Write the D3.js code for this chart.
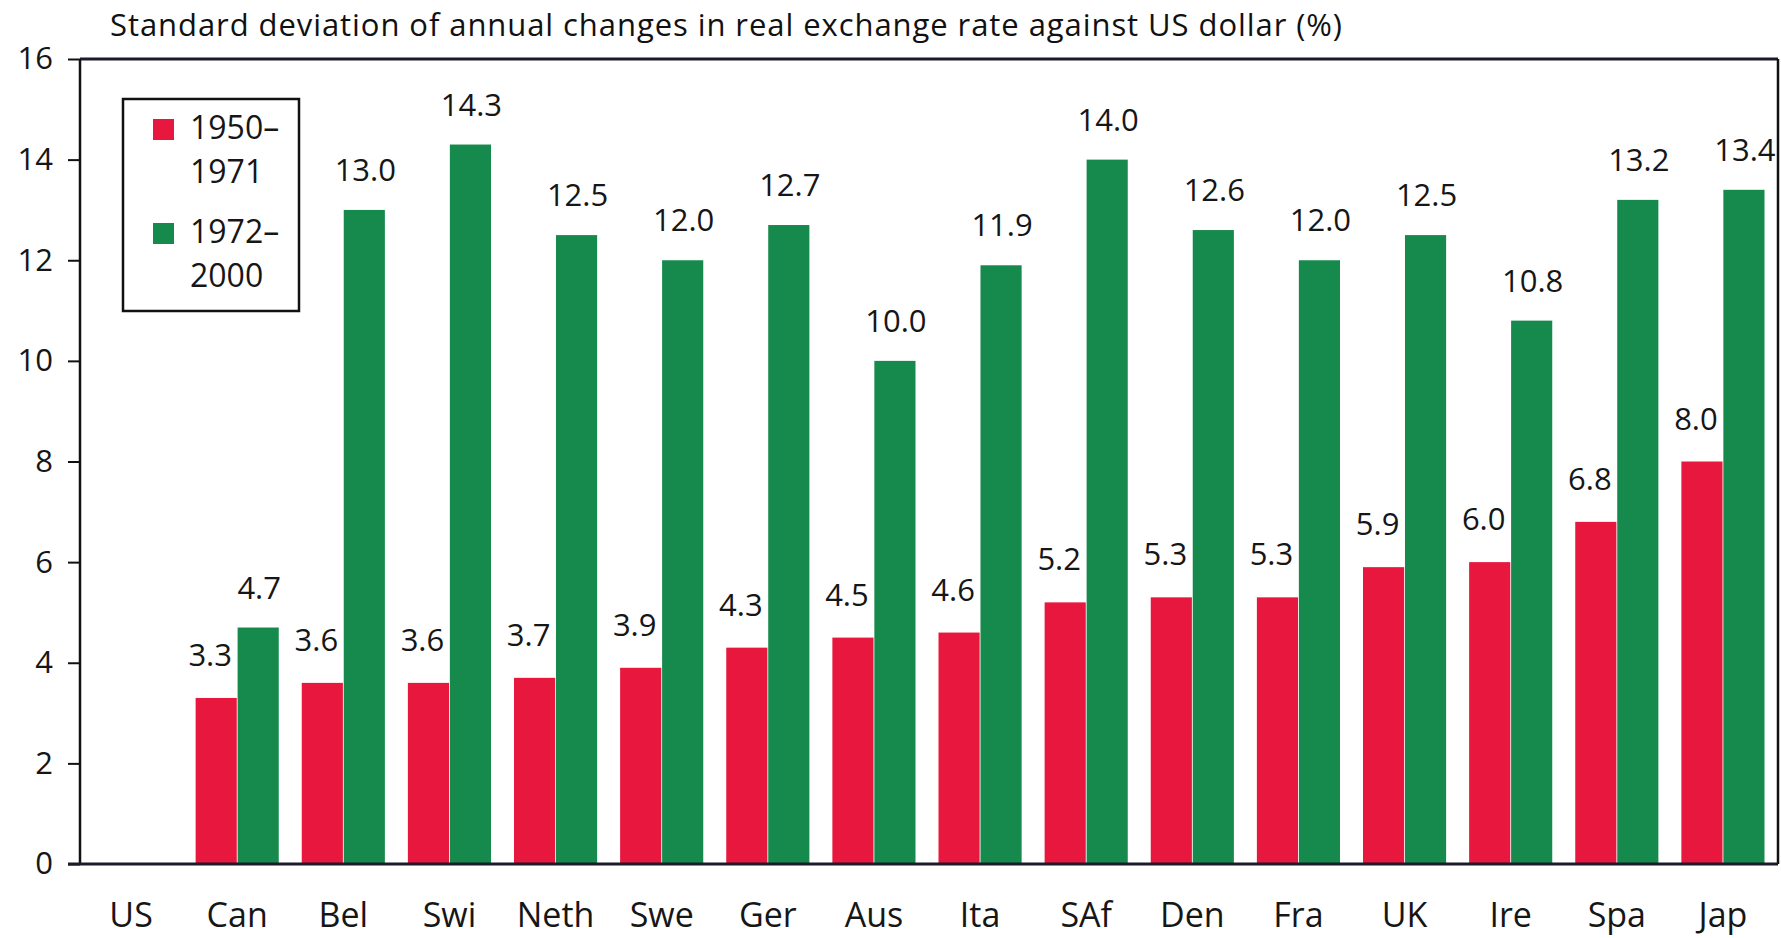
<!DOCTYPE html>
<html>
<head>
<meta charset="utf-8">
<script src="https://cdn.jsdelivr.net/npm/d3@7"></script>
<style>
  html, body { margin: 0; padding: 0; background: #fff; }
  svg { display: block; font-family: "Open Sans", "Noto Sans", sans-serif; }
</style>
</head>
<body>
<svg id="chart" width="1781" height="938"></svg>
<script>
const categories = ["US","Can","Bel","Swi","Neth","Swe","Ger","Aus","Ita","SAf","Den","Fra","UK","Ire","Spa","Jap"];
const series = ["1950–1971", "1972–2000"];
const values1950_1971 = [0, 3.3, 3.6, 3.6, 3.7, 3.9, 4.3, 4.5, 4.6, 5.2, 5.3, 5.3, 5.9, 6.0, 6.8, 8.0];
const values1972_2000 = [0, 4.7, 13.0, 14.3, 12.5, 12.0, 12.7, 10.0, 11.9, 14.0, 12.6, 12.0, 12.5, 10.8, 13.2, 13.4];
const yTicks = [0, 2, 4, 6, 8, 10, 12, 14, 16];
const legendLines = [["1950–", "1971"], ["1972–", "2000"]];
const titleText = "Standard deviation of annual changes in real exchange rate against US dollar (%)";

(function () {
const colors = ["#e8173d", "#16894c"];
const svg = d3.select("#chart");

const pL = 80, pR = 1778, pT = 59, pB = 864;

const x0 = d3.scaleBand().domain(categories).range([78, 1776]).paddingInner(0).paddingOuter(0);
const x1 = d3.scaleBand().domain(series).range([11.5, x0.bandwidth() - 11.5]).paddingInner(0.02);
const y = d3.scaleLinear().domain([0, 16]).range([pB, pT]);

// title
svg.append("text")
  .attr("x", 110).attr("y", 36)
  .attr("font-size", 31).attr("fill", "#111")
  .attr("textLength", 1232).attr("lengthAdjust", "spacing")
  .text(titleText);

// bars
const data = categories.map((c, i) => ({ cat: c, vals: [values1950_1971[i], values1972_2000[i]] }));
const groups = svg.append("g").selectAll("g").data(data).join("g")
  .attr("transform", d => `translate(${x0(d.cat)},0)`);

groups.selectAll("rect").data(d => d.vals.map((v, k) => ({ v, k })))
  .join("rect")
  .attr("x", d => x1(series[d.k]))
  .attr("width", x1.bandwidth())
  .attr("y", d => y(d.v))
  .attr("height", d => y(0) - y(d.v))
  .attr("fill", d => colors[d.k]);

groups.selectAll("text").data(d => d.vals.map((v, k) => ({ v, k })).filter(e => e.v > 0))
  .join("text")
  .attr("x", d => x1(series[d.k]) + x1.bandwidth() / 2 + (d.k === 0 ? -6 : 1))
  .attr("y", d => y(d.v) - (d.k === 0 ? 32 : 29))
  .attr("text-anchor", "middle")
  .attr("font-size", 31).attr("fill", "#161616")
  .text(d => d3.format(".1f")(d.v));

// y axis
const yAxis = svg.append("g")
  .attr("transform", `translate(${pL},0)`)
  .call(d3.axisLeft(y).tickValues(yTicks).tickSize(12).tickPadding(15).tickFormat(d3.format("d")));
yAxis.select(".domain").remove();
yAxis.selectAll(".tick line").attr("stroke", "#111").attr("stroke-width", 2);
yAxis.selectAll("text").attr("font-size", 31).attr("fill", "#161616")
  .attr("font-family", "'Open Sans', sans-serif");

// x axis
const xAxis = svg.append("g")
  .attr("transform", `translate(0,${pB})`)
  .call(d3.axisBottom(x0).tickSize(0).tickPadding(39));
xAxis.select(".domain").remove();
xAxis.selectAll("text").attr("font-size", 34).attr("fill", "#161616")
  .attr("font-family", "'Open Sans', sans-serif");

// frame
svg.append("line").attr("x1", pL).attr("x2", pR).attr("y1", pT).attr("y2", pT)
  .attr("stroke", "#1b1b2b").attr("stroke-width", 3);
svg.append("line").attr("x1", pL).attr("x2", pL).attr("y1", pT).attr("y2", pB)
  .attr("stroke", "#111").attr("stroke-width", 2.5);
svg.append("line").attr("x1", pR).attr("x2", pR).attr("y1", pT).attr("y2", pB)
  .attr("stroke", "#111").attr("stroke-width", 2.5);
svg.append("line").attr("x1", pL - 12).attr("x2", pR).attr("y1", pB).attr("y2", pB)
  .attr("stroke", "#1b1b2b").attr("stroke-width", 3);

// legend
const lg = svg.append("g");
lg.append("rect").attr("x", 123).attr("y", 99).attr("width", 176).attr("height", 212)
  .attr("fill", "#fff").attr("stroke", "#111").attr("stroke-width", 2.5);
series.forEach((s, i) => {
  const yy = 119 + i * 104;
  lg.append("rect").attr("x", 153).attr("y", yy).attr("width", 21).attr("height", 21).attr("fill", colors[i]);
  lg.append("text").attr("x", 190).attr("y", yy + 20).attr("font-size", 32).attr("fill", "#161616").text(legendLines[i][0]);
  lg.append("text").attr("x", 190).attr("y", yy + 64).attr("font-size", 32).attr("fill", "#161616").text(legendLines[i][1]);
});
})();
</script>
</body>
</html>
